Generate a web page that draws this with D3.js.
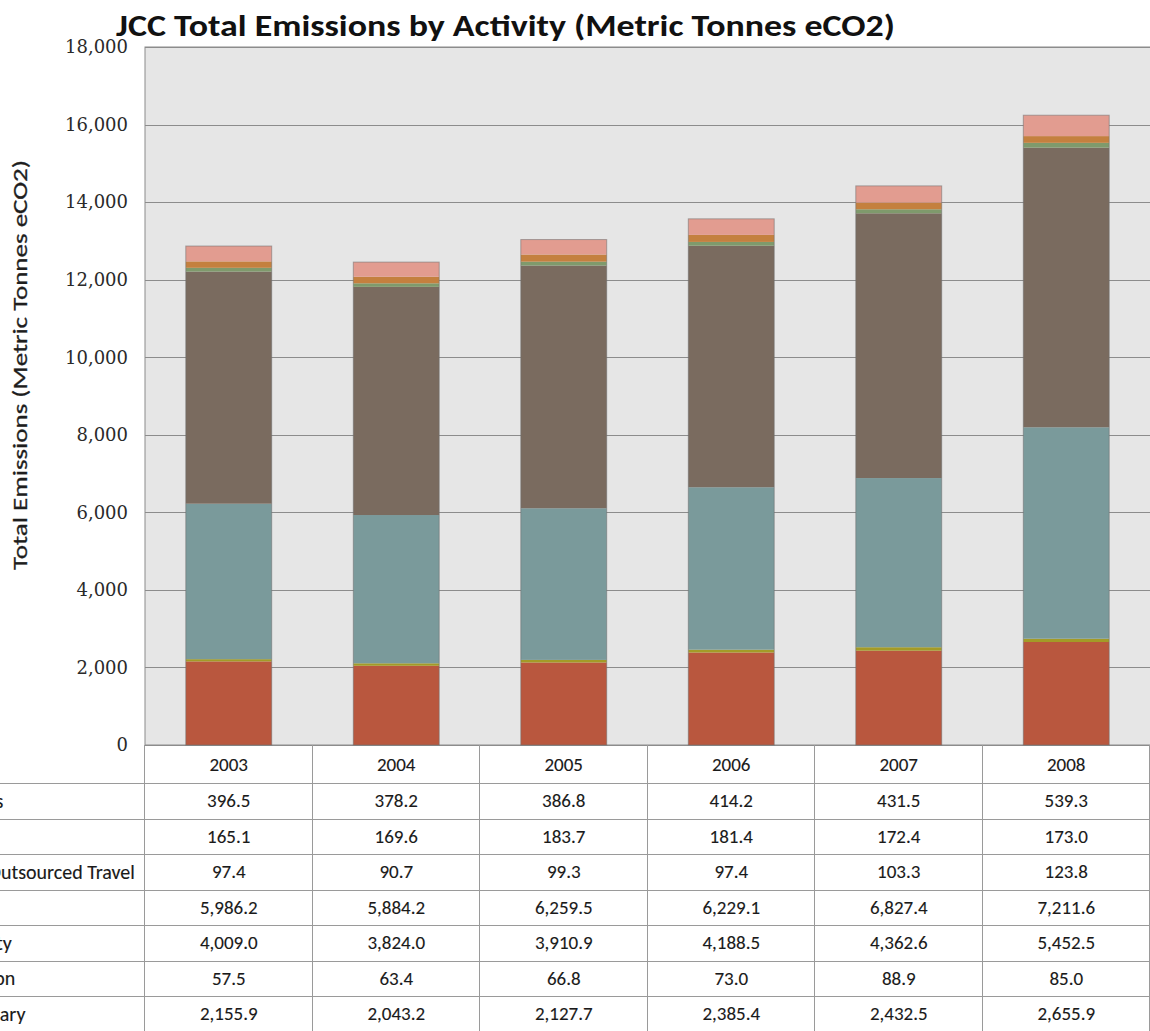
<!DOCTYPE html>
<html>
<head>
<meta charset="utf-8">
<script src="https://cdn.jsdelivr.net/npm/d3@7"></script>
<style>
  html, body { margin: 0; padding: 0; background: #fff; overflow: hidden; }
  svg { display: block; }
  .calibri { font-family: Carlito, Calibri, Lato, "Open Sans", sans-serif; }
</style>
</head>
<body>
<svg id="chart" width="1150" height="1031"></svg>
<script>
// Years shown on the category axis / table header
const years = ["2003", "2004", "2005", "2006", "2007", "2008"];

// Emission sources, in table order (top row = top of stack)
const sources = [
  "Scope 2 T&D Losses",
  "Solid Waste",
  "Directly Financed Outsourced Travel",
  "Commuting",
  "Purchased Electricity",
  "Direct Transportation",
  "On-Campus Stationary"
];

// Metric tonnes eCO2 per source and year
const tdLosses         = [396.5, 378.2, 386.8, 414.2, 431.5, 539.3];
const solidWaste       = [165.1, 169.6, 183.7, 181.4, 172.4, 173.0];
const outsourcedTravel = [97.4, 90.7, 99.3, 97.4, 103.3, 123.8];
const commuting        = [5986.2, 5884.2, 6259.5, 6229.1, 6827.4, 7211.6];
const electricity      = [4009.0, 3824.0, 3910.9, 4188.5, 4362.6, 5452.5];
const transportation   = [57.5, 63.4, 66.8, 73.0, 88.9, 85.0];
const stationary       = [2155.9, 2043.2, 2127.7, 2385.4, 2432.5, 2655.9];

const seriesValues = [tdLosses, solidWaste, outsourcedTravel, commuting, electricity, transportation, stationary];

// Fill colours, same order as sources
const colors = ["#e29c90", "#c4803f", "#7f9a6c", "#7a6b5f", "#7a9a9b", "#a39b27", "#b9573e"];

// Value axis ticks
const yTicks = [0, 2000, 4000, 6000, 8000, 10000, 12000, 14000, 16000, 18000];

// Build rows for the stack
const rows = years.map((yr, i) => {
  const r = { year: yr };
  sources.forEach((s, j) => { r[s] = seriesValues[j][i]; });
  return r;
});

const svg = d3.select("#chart");

const plot = { left: 145, right: 1151, top: 47, bottom: 745 };
const table = { headerBottom: 783, rowH: 35.5 };
const cellFont = 19;
const labelFont = 20;
const inkColor = "#1a1a1a";

const x = d3.scaleBand().domain(years).range([plot.left, 1150]).padding(0);
const y = d3.scaleLinear().domain([0, 18000]).range([plot.bottom, plot.top]);
const barW = x.bandwidth() * 0.513;

// Plot background
svg.append("rect")
  .attr("x", plot.left).attr("y", plot.top)
  .attr("width", plot.right - plot.left).attr("height", plot.bottom - plot.top)
  .attr("fill", "#e6e6e6").attr("stroke", "#8c8c8c").attr("stroke-width", 1);

// Gridlines
svg.append("g")
  .selectAll("line")
  .data(yTicks)
  .join("line")
  .attr("x1", plot.left).attr("x2", plot.right)
  .attr("y1", d => Math.round(y(d)) + 0.5).attr("y2", d => Math.round(y(d)) + 0.5)
  .attr("stroke", "#8c8c8c").attr("stroke-width", 1);

// Tick labels
svg.append("g")
  .selectAll("text")
  .data(yTicks)
  .join("text")
  .attr("x", 128)
  .attr("y", d => y(d))
  .attr("dy", "0.35em")
  .attr("text-anchor", "end")
  .attr("font-family", "'DejaVu Serif', 'Liberation Serif', serif")
  .attr("font-size", 18)
  .attr("fill", "#2a2a2a")
  .text(d => d3.format(",")(d));

// Stacked bars (bottom = last source in the table)
const stackKeys = sources.slice().reverse();
const stacked = d3.stack().keys(stackKeys)(rows);
const colorOf = d3.scaleOrdinal().domain(sources).range(colors);

svg.append("g")
  .selectAll("g")
  .data(stacked)
  .join("g")
  .attr("fill", d => colorOf(d.key))
  .selectAll("rect")
  .data(d => d)
  .join("rect")
  .attr("x", d => x(d.data.year) + (x.bandwidth() - barW) / 2)
  .attr("y", d => y(d[1]))
  .attr("width", barW)
  .attr("height", d => y(d[0]) - y(d[1]));

// Thin outline around each full stack
const totals = rows.map(r => ({ year: r.year, total: d3.sum(sources, s => r[s]) }));
svg.append("g")
  .selectAll("rect")
  .data(totals)
  .join("rect")
  .attr("x", d => x(d.year) + (x.bandwidth() - barW) / 2)
  .attr("y", d => y(d.total))
  .attr("width", barW)
  .attr("height", d => y(0) - y(d.total))
  .attr("fill", "none")
  .attr("stroke", "#6f6f6f")
  .attr("stroke-opacity", 0.55)
  .attr("stroke-width", 1);

// Title
svg.append("text")
  .attr("class", "calibri")
  .attr("x", 116).attr("y", 36)
  .attr("font-size", 31)
  .attr("font-weight", "bold")
  .attr("fill", "#111")
  .attr("textLength", 779)
  .attr("lengthAdjust", "spacingAndGlyphs")
  .text("JCC Total Emissions by Activity (Metric Tonnes eCO2)");

// Value axis title
svg.append("text")
  .attr("class", "calibri")
  .attr("transform", "translate(27,365) rotate(-90)")
  .attr("x", -205)
  .attr("font-size", 21)
  .attr("fill", "#1e1e1e")
  .attr("stroke", "#1e1e1e")
  .attr("stroke-width", 0.3)
  .attr("textLength", 410)
  .attr("lengthAdjust", "spacingAndGlyphs")
  .text("Total Emissions (Metric Tonnes eCO2)");

// ---- Data table beneath the chart ----
const tbl = svg.append("g").attr("class", "calibri");
const gridColor = "#9a9a9a";
const rowTop = i => table.headerBottom + i * table.rowH;

// Horizontal row lines
const hLines = d3.range(sources.length + 1).map(rowTop);
tbl.selectAll("line.h")
  .data(hLines)
  .join("line")
  .attr("class", "h")
  .attr("x1", 0).attr("x2", 1150)
  .attr("y1", d => Math.round(d) + 0.5).attr("y2", d => Math.round(d) + 0.5)
  .attr("stroke", gridColor).attr("stroke-width", 1);

// Vertical column lines
const vLines = years.map(yr => x(yr)).concat([1150]);
tbl.selectAll("line.v")
  .data(vLines)
  .join("line")
  .attr("class", "v")
  .attr("x1", d => Math.round(d) - 0.5).attr("x2", d => Math.round(d) - 0.5)
  .attr("y1", plot.bottom).attr("y2", 1031)
  .attr("stroke", gridColor).attr("stroke-width", 1);

// Shared look for table text
const cellText = sel => sel
  .attr("dy", "0.35em")
  .attr("fill", inkColor)
  .attr("stroke", inkColor)
  .attr("stroke-width", 0.12);

// Year header
tbl.selectAll("text.year")
  .data(years)
  .join("text")
  .attr("class", "year")
  .attr("x", d => x(d) + x.bandwidth() / 2)
  .attr("y", (plot.bottom + table.headerBottom) / 2)
  .attr("text-anchor", "middle")
  .attr("font-size", cellFont)
  .call(cellText)
  .text(d => d);

// Value cells
const fmt = d3.format(",.1f");
sources.forEach((s, j) => {
  tbl.append("g")
    .selectAll("text")
    .data(seriesValues[j])
    .join("text")
    .attr("x", (d, i) => x(years[i]) + x.bandwidth() / 2)
    .attr("y", rowTop(j) + table.rowH / 2)
    .attr("text-anchor", "middle")
    .attr("font-size", cellFont)
    .call(cellText)
    .text(d => fmt(d));
});

// Row labels, left-aligned in a wide label column whose start lies left of the page
const labels = tbl.append("g")
  .selectAll("text")
  .data(sources)
  .join("text")
  .attr("y", (d, j) => rowTop(j) + table.rowH / 2)
  .attr("font-size", labelFont)
  .call(cellText)
  .text(d => d);

// Column start: the label column is wide enough that "Directly Financed O" runs off the left edge
const probe = tbl.append("text").attr("font-size", labelFont).text("Directly Financed O");
const prefixW = probe.node().getComputedTextLength();
probe.remove();
labels.attr("x", 1 - prefixW);
</script>
</body>
</html>
